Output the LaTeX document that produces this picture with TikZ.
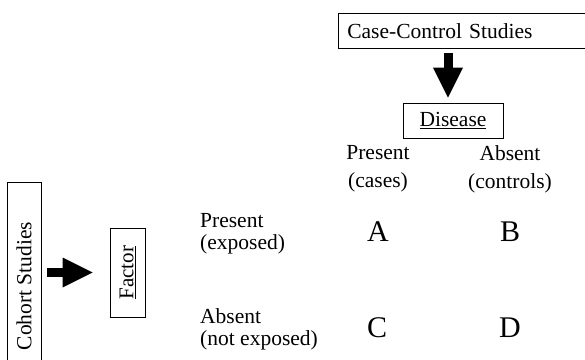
\documentclass[tikz,border=0pt]{standalone}
\usepackage{fontspec}
\setmainfont{Liberation Serif}
\usetikzlibrary{arrows.meta}
\begin{document}
\begin{tikzpicture}[x=1pt,y=-1pt,
  box/.style={draw, line width=0.7pt, inner sep=0pt},
  txt/.style={font=\fontsize{21.5}{28}\selectfont, inner sep=0pt},
  rowtxt/.style={font=\fontsize{21.5}{22}\selectfont, inner sep=0pt, align=left, anchor=west},
  big/.style={font=\fontsize{30}{32}\selectfont, inner sep=0pt},
  fat/.style={line width=9pt, -{Triangle[width=30pt,length=30pt,line width=0pt]}}]
\useasboundingbox (0,0) rectangle (585,359);
\clip (0,0) rectangle (585,359);
% boxes
\node[box, anchor=north west, minimum height=35pt, text width=252pt, inner xsep=9pt, align=left, font=\fontsize{21.5}{24}\selectfont] (ccs) at (338,13) {Case-Control Studies};
\node[box, minimum width=100pt, minimum height=35pt, font=\fontsize{21.5}{24}\selectfont] (dis) at (453,120.5) {\underline{Disease}};
\node[box, rotate=90, minimum width=208pt, minimum height=34pt, font=\fontsize{21.5}{24}\selectfont] (coh) at (24,286) {Cohort Studies};
\node[box, rotate=90, minimum width=89pt, minimum height=35pt, font=\fontsize{21}{24}\selectfont] (fac) at (127.5,272.5) {\underline{Factor}};
% arrows
\draw[fat, shorten <=4pt, shorten >=5pt] ([xshift=-5pt]dis.north |- ccs.south) -- ([xshift=-5pt]dis.north);
\draw[fat, shorten <=6pt, shorten >=17pt] (coh.south |- fac.north) -- (fac.north);
% table
\node[txt, align=center] (hp) at (378,169) {Present\\(cases)};
\node[txt, align=center] (ha) at (510,169) {Absent\\(controls)};
\node[rowtxt] (rp) at (200,234) {Present\\(exposed)};
\node[rowtxt] (ra) at (200,329) {Absent\\(not exposed)};
\node[big] (A) at (378,232) {A};
\node[big] (B) at (510,232) {B};
\node[big] (C) at (377,328) {C};
\node[big] (D) at (510,328) {D};
\end{tikzpicture}
\end{document}
